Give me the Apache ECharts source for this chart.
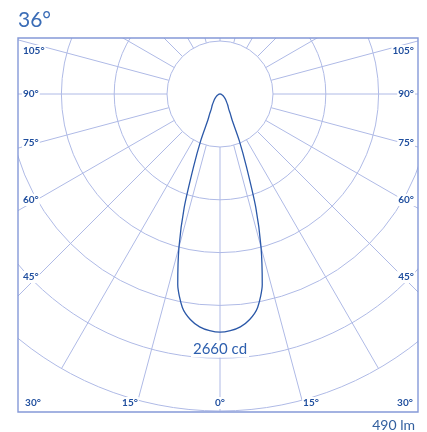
<!DOCTYPE html>
<html>
<head>
<meta charset="utf-8">
<script src="https://cdn.jsdelivr.net/npm/echarts@6/dist/echarts.min.js"></script>
<style>
html,body{margin:0;padding:0;background:#fff;}
#chart{width:427px;height:432px;}
</style>
</head>
<body>
<div id="chart"></div>
<script>
// ---- data ----
const beamTitle = '36°';
const peakLabel = '2660 cd';
const fluxLabel = '490 lm';
const angles = [0, 2.5, 5, 7.5, 10, 12.5, 15, 17.5, 20, 22.5, 25, 27.5, 30, 35, 40, 45, 50, 60, 70, 80, 90];
const intensity = [2660, 2645, 2610, 2540, 2420, 2180, 1770, 1330, 860, 560, 320, 250, 195, 150, 112, 90, 68, 40, 22, 10, 0];
const sideTickLabels = ['105°', '90°', '75°', '60°', '45°'];
const bottomTickLabels = ['30°', '15°', '0°', '15°', '30°'];
const radialMax = 3540;

// ---- layout ----
const cx = 220, cy = 94;
const innerR = 53, outerR = 317;
const frame = {x: 18, y: 38, w: 400, h: 374};
const sideLabelY = [51, 94, 143, 200, 277];
const bottomLabelX = [33, 130, 220, 311, 405];
const gridColor = '#afbae6';
const frameColor = '#8599d8';
const labelColor = '#1f4e9e';
const curveColor = '#2b58a8';
const font = 'Lato, "Open Sans", sans-serif';

// curve: left side (angle a), then right side (360 - a)
const curve = [];
for (let i = angles.length - 1; i >= 0; i--) curve.push([intensity[i], angles[i]]);
for (let i = 1; i < angles.length; i++) curve.push([intensity[i], 360 - angles[i]]);

const graphics = [
  {type: 'rect', z: 100, shape: {x: 0, y: 0, width: 427, height: frame.y}, style: {fill: '#fff'}},
  {type: 'rect', z: 100, shape: {x: 0, y: 0, width: frame.x, height: 432}, style: {fill: '#fff'}},
  {type: 'rect', z: 100, shape: {x: frame.x + frame.w, y: 0, width: 427 - frame.x - frame.w, height: 432}, style: {fill: '#fff'}},
  {type: 'rect', z: 100, shape: {x: 0, y: frame.y + frame.h, width: 427, height: 432 - frame.y - frame.h}, style: {fill: '#fff'}},
  {type: 'rect', z: 101, shape: {x: frame.x, y: frame.y, width: frame.w, height: frame.h}, style: {fill: 'none', stroke: frameColor, lineWidth: 1.4}},
  {type: 'text', z: 102, x: 18, y: 20, style: {text: beamTitle, fill: '#3a6cb6', font: '21px ' + font, textVerticalAlign: 'middle'}},
  {type: 'text', z: 102, x: 415, y: 425, style: {text: fluxLabel, fill: '#33609f', font: '14px ' + font, textAlign: 'right', textVerticalAlign: 'middle'}},
  {type: 'text', z: 102, x: cx, y: 349, style: {text: peakLabel, fill: '#2d5fae', font: '15px ' + font, textAlign: 'center', textVerticalAlign: 'middle', backgroundColor: '#fff', padding: [1, 2]}}
];
sideTickLabels.forEach((t, i) => {
  graphics.push({type: 'text', z: 102, x: frame.x + 4, y: sideLabelY[i], style: {text: t, fill: labelColor, font: 'bold 10px ' + font, textAlign: 'left', textVerticalAlign: 'middle', backgroundColor: '#fff', padding: [1, 1]}});
  graphics.push({type: 'text', z: 102, x: frame.x + frame.w - 3, y: sideLabelY[i], style: {text: t, fill: labelColor, font: 'bold 10px ' + font, textAlign: 'right', textVerticalAlign: 'middle', backgroundColor: '#fff', padding: [1, 1]}});
});
bottomTickLabels.forEach((t, i) => {
  graphics.push({type: 'text', z: 102, x: bottomLabelX[i], y: 403, style: {text: t, fill: labelColor, font: 'bold 10px ' + font, textAlign: 'center', textVerticalAlign: 'middle', backgroundColor: '#fff', padding: [1, 1]}});
});

const chart = echarts.init(document.getElementById('chart'), null, {renderer: 'canvas'});
chart.setOption({
  animation: false,
  polar: [
    {center: [cx, cy], radius: [innerR, outerR]},
    {center: [cx, cy], radius: [0, outerR]}
  ],
  angleAxis: [
    {polarIndex: 0, type: 'value', min: 0, max: 360, interval: 15, startAngle: 270,
     axisLine: {show: false}, axisTick: {show: false}, axisLabel: {show: false},
     splitLine: {show: true, lineStyle: {color: gridColor, width: 1}}},
    {polarIndex: 1, type: 'value', min: 0, max: 360, startAngle: 270,
     axisLine: {show: false}, axisTick: {show: false}, axisLabel: {show: false}, splitLine: {show: false}}
  ],
  radiusAxis: [
    {polarIndex: 0, type: 'value', min: 0, max: 5, interval: 1,
     axisLine: {show: false}, axisTick: {show: false}, axisLabel: {show: false},
     splitLine: {show: true, lineStyle: {color: gridColor, width: 1}}},
    {polarIndex: 1, type: 'value', min: 0, max: radialMax,
     axisLine: {show: false}, axisTick: {show: false}, axisLabel: {show: false}, splitLine: {show: false}}
  ],
  series: [{
    type: 'line', coordinateSystem: 'polar', polarIndex: 1,
    data: curve, symbol: 'none', smooth: 0.25, z: 5,
    lineStyle: {color: curveColor, width: 1.3}
  }],
  graphic: graphics
});
</script>
</body>
</html>
